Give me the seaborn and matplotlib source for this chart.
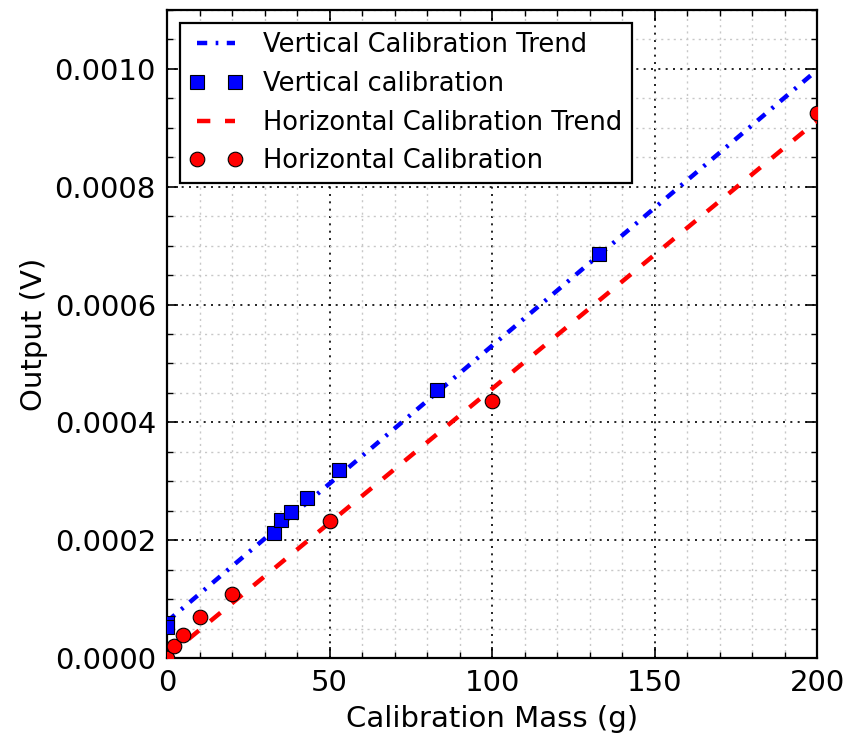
import numpy as np
import pandas as pd
import matplotlib
matplotlib.use('Agg')
import matplotlib.pyplot as plt
import seaborn as sns
from matplotlib.ticker import MultipleLocator, FormatStrFormatter

# Vertical calibration (blue squares)
vert_mass = [0, 0, 33, 35, 38, 43, 53, 83, 133]
vert_output = [0.000060, 0.000052, 0.000212, 0.000235, 0.000248, 0.000271, 0.000319, 0.000455, 0.000686]

# Horizontal calibration (red circles)
horiz_mass = [0, 2, 5, 10, 20, 50, 100, 200]
horiz_output = [0.0, 0.000020, 0.000039, 0.000069, 0.000109, 0.000233, 0.000437, 0.000925]

# Trend line end points
vert_trend_mass = [0, 200]
vert_trend_output = [0.000062, 0.000998]
horiz_trend_mass = [0, 200]
horiz_trend_output = [0.000002, 0.000912]

sns.set_style("ticks")
plt.rcParams['font.family'] = ['DejaVu Sans']
plt.rcParams['text.color'] = 'black'
plt.rcParams['axes.labelcolor'] = 'black'
plt.rcParams['xtick.color'] = 'black'
plt.rcParams['ytick.color'] = 'black'

fig = plt.figure(figsize=(8.5, 7.38), dpi=100)
ax = fig.add_axes([0.1965, 0.1084, 0.9612 - 0.1965, 0.9864 - 0.1084])

vt = pd.DataFrame({'mass': vert_trend_mass, 'out': vert_trend_output})
v = pd.DataFrame({'mass': vert_mass, 'out': vert_output})
ht = pd.DataFrame({'mass': horiz_trend_mass, 'out': horiz_trend_output})
h = pd.DataFrame({'mass': horiz_mass, 'out': horiz_output})

sns.lineplot(data=vt, x='mass', y='out', ax=ax, color='#0000ff', lw=3.2,
             estimator=None, label='Vertical Calibration Trend', zorder=3)
ax.lines[-1].set_dashes((2.3, 1.9, 0.6, 1.9))
sns.lineplot(data=v, x='mass', y='out', ax=ax, color='#0000ff', lw=0,
             marker='s', markersize=10.5, markeredgecolor='black',
             markeredgewidth=0.8, estimator=None, sort=False,
             label='Vertical calibration', zorder=4)
sns.lineplot(data=ht, x='mass', y='out', ax=ax, color='#ff0000', lw=3.2,
             estimator=None, label='Horizontal Calibration Trend', zorder=3)
ax.lines[-1].set_dashes((3.0, 3.3))
sns.lineplot(data=h, x='mass', y='out', ax=ax, color='#ff0000', lw=0,
             marker='o', markersize=10.5, markeredgecolor='black',
             markeredgewidth=0.8, estimator=None, sort=False,
             label='Horizontal Calibration', zorder=4)

ax.set_xlim(0, 200)
ax.set_ylim(0, 0.0011)
ax.xaxis.set_major_locator(MultipleLocator(50))
ax.xaxis.set_minor_locator(MultipleLocator(10))
ax.yaxis.set_major_locator(MultipleLocator(0.0002))
ax.yaxis.set_minor_locator(MultipleLocator(0.00005))
ax.yaxis.set_major_formatter(FormatStrFormatter('%.4f'))

ax.grid(which='major', color='black', linestyle=(0, (1.2, 3.2)), linewidth=1.2)
ax.grid(which='minor', color='#c8c8c8', linestyle=(0, (1.5, 3.0)), linewidth=1.0)
ax.set_axisbelow(True)

ax.tick_params(which='both', top=True, right=True, direction='in',
               labelsize=21, color='black')
ax.tick_params(which='major', length=8, width=1.2, pad=8)
ax.tick_params(which='minor', length=4, width=1)
for s in ax.spines.values():
    s.set_linewidth(1.6)
    s.set_color('black')

ax.set_xlabel('Calibration Mass (g)', fontsize=21, labelpad=6)
ax.set_ylabel('Output (V)', fontsize=21, labelpad=5)

leg = ax.legend(loc='upper left', numpoints=2, fontsize=18.5, frameon=True,
                fancybox=False, edgecolor='black', framealpha=1,
                handlelength=2.1, handletextpad=0.8, labelspacing=0.5,
                borderaxespad=0.5, borderpad=0.35)
leg.get_frame().set_linewidth(1.6)

fig.savefig('out.png', dpi=100)
